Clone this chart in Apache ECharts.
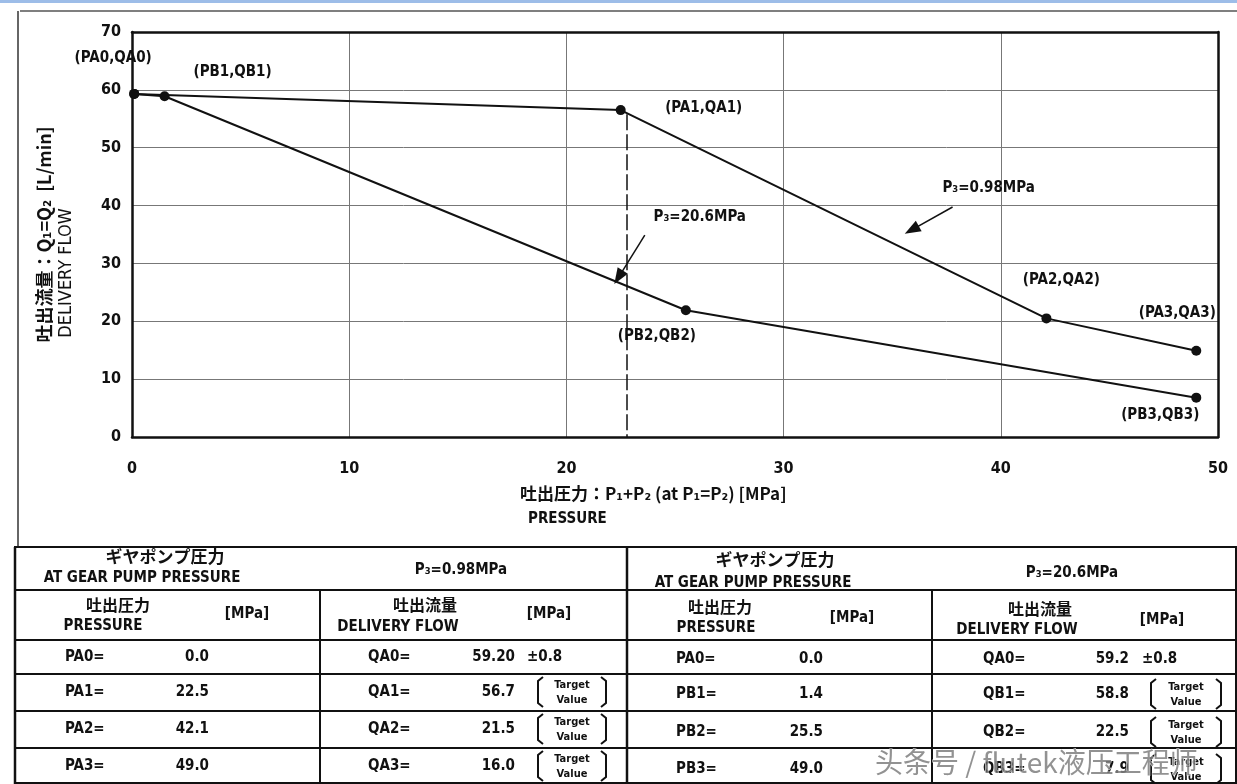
<!DOCTYPE html>
<html><head><meta charset="utf-8">
<script src="https://cdn.jsdelivr.net/npm/echarts@6/dist/echarts.min.js"></script>
<style>html,body{margin:0;padding:0;background:#fff}#c{width:1237px;height:784px}</style>
</head><body><div id="c"></div>
<script>
// ---- data ----
const seriesA_x = [0.1, 22.5, 42.1, 49.0];
const seriesA_y = [59.3, 56.5, 20.5, 14.9];
const seriesB_x = [0.1, 1.5, 25.5, 49.0];
const seriesB_y = [59.3, 58.9, 21.9, 6.8];
const labelsA = ['(PA0,QA0)', '(PA1,QA1)', '(PA2,QA2)', '(PA3,QA3)'];
const labelsB = ['', '(PB1,QB1)', '(PB2,QB2)', '(PB3,QB3)'];
const xTickLabels = ['0', '10', '20', '30', '40', '50'];
const yTickLabels = ['0', '10', '20', '30', '40', '50', '60', '70'];
// table texts
const leftPLabels = ['PA0=', 'PA1=', 'PA2=', 'PA3='];
const leftPValues = ['0.0', '22.5', '42.1', '49.0'];
const leftQLabels = ['QA0=', 'QA1=', 'QA2=', 'QA3='];
const leftQValues = ['59.20', '56.7', '21.5', '16.0'];
const rightPLabels = ['PA0=', 'PB1=', 'PB2=', 'PB3='];
const rightPValues = ['0.0', '1.4', '25.5', '49.0'];
const rightQLabels = ['QA0=', 'QB1=', 'QB2=', 'QB3='];
const rightQValues = ['59.2', '58.8', '22.5', '7.9'];

const LAT = '"Liberation Sans Narrow","DejaVu Sans Condensed","Noto Sans CJK JP",sans-serif';
const CJK = '"Noto Sans CJK JP","DejaVu Sans Condensed",sans-serif';

const offA = [[-21, -36], [83, -2], [15, -38], [-19, -38]];
const offB = [[0, 0], [68, -24], [-29, 26], [-36, 17]];

function mkData(xs, ys, labels, offs) {
  return xs.map((x, i) => ({
    value: [x, ys[i]],
    label: labels[i] ? {show: true, formatter: labels[i], position: 'inside', offset: offs[i],
      color: '#111', fontFamily: LAT, fontWeight: 'bold', fontSize: 15} : {show: false}
  }));
}

const g = [];
function T(x, y, text, o) {
  o = o || {};
  g.push({type: 'text', x: x, y: y, rotation: o.rot || 0, silent: true,
    style: {text: text, fill: o.color || '#111', textAlign: o.align || 'center', textVerticalAlign: 'middle',
      font: (o.weight || 'bold') + ' ' + (o.size || 15) + 'px ' + (o.family || LAT),
      lineHeight: o.lh, stroke: o.stroke, lineWidth: o.sw}});
}
function L(x1, y1, x2, y2, w, c) {
  g.push({type: 'line', silent: true, shape: {x1: x1, y1: y1, x2: x2, y2: y2}, style: {stroke: c || '#111', lineWidth: w || 2}});
}
function bracket(xl, xr, yc) {
  g.push({type: 'polyline', silent: true, shape: {points: [[xl + 5, yc - 15], [xl, yc - 11], [xl, yc + 11], [xl + 5, yc + 15]]}, style: {stroke: '#111', lineWidth: 2, fill: null}});
  g.push({type: 'polyline', silent: true, shape: {points: [[xr - 5, yc - 15], [xr, yc - 11], [xr, yc + 11], [xr - 5, yc + 15]]}, style: {stroke: '#111', lineWidth: 2, fill: null}});
  T((xl + xr) / 2, yc - 7, 'Target', {size: 11});
  T((xl + xr) / 2, yc + 8, 'Value', {size: 11});
}

// page decorations
g.push({type: 'rect', silent: true, shape: {x: 0, y: 0, width: 1237, height: 3}, style: {fill: '#9dbde8'}});
L(20, 11, 1237, 11, 1.3, '#555');
L(18, 11, 18, 547, 1.5, '#333');

// axis names
T(66, 273, 'DELIVERY FLOW', {rot: Math.PI / 2, weight: 'normal', size: 18});
T(520, 494, '吐出圧力：P₁+P₂ (at P₁=P₂) [MPa]', {align: 'left', size: 17, family: CJK});
T(528, 519, 'PRESSURE', {align: 'left', size: 15});

// ---- table ----
const yTop = 547, yR1 = 590, yR2 = 640, rowL = [674, 711, 748], yBot = 783;
L(14, yTop, 1237, yTop, 2); L(14, yR1, 1237, yR1, 2); L(14, yR2, 1237, yR2, 2);
rowL.forEach(y => L(14, y, 1237, y, 2));
L(14, yBot, 1237, yBot, 2);
L(15, yTop, 15, 784, 2.5); L(1236, yTop, 1236, 784, 2);
L(627, yTop, 627, 784, 2.5); L(320, yR1, 320, 784, 2); L(932, yR1, 932, 784, 2);

T(165, 557, 'ギヤポンプ圧力', {family: CJK, size: 17});
T(142, 578, 'AT GEAR PUMP PRESSURE', {size: 15});
T(461, 570, 'P₃=0.98MPa', {size: 15});
T(775, 560, 'ギヤポンプ圧力', {family: CJK, size: 17});
T(753, 583, 'AT GEAR PUMP PRESSURE', {size: 15});
T(1072, 573, 'P₃=20.6MPa', {size: 15});

T(118, 605, '吐出圧力', {family: CJK, size: 16});
T(103, 626, 'PRESSURE', {size: 15});
T(247, 614, '[MPa]', {size: 15});
T(425, 605, '吐出流量', {family: CJK, size: 16});
T(398, 627, 'DELIVERY FLOW', {size: 15});
T(549, 614, '[MPa]', {size: 15});
T(720, 607, '吐出圧力', {family: CJK, size: 16});
T(716, 628, 'PRESSURE', {size: 15});
T(852, 618, '[MPa]', {size: 15});
T(1040, 609, '吐出流量', {family: CJK, size: 16});
T(1017, 630, 'DELIVERY FLOW', {size: 15});
T(1162, 620, '[MPa]', {size: 15});

const yL = [657, 692, 729, 766], yRr = [659, 694, 732, 769];
for (let i = 0; i < 4; i++) {
  T(65, yL[i], leftPLabels[i], {align: 'left'});
  T(209, yL[i], leftPValues[i], {align: 'right'});
  T(368, yL[i], leftQLabels[i], {align: 'left'});
  T(515, yL[i], leftQValues[i], {align: 'right'});
  T(676, yRr[i], rightPLabels[i], {align: 'left'});
  T(823, yRr[i], rightPValues[i], {align: 'right'});
  T(983, yRr[i], rightQLabels[i], {align: 'left'});
  T(1129, yRr[i], rightQValues[i], {align: 'right'});
  if (i === 0) {
    T(527, yL[i], '±0.8', {align: 'left'});
    T(1142, yRr[i], '±0.8', {align: 'left'});
  } else {
    bracket(538, 606, yL[i]);
    bracket(1151, 1221, yRr[i]);
  }
}
// watermark
T(875, 762, '头条号 / flutek液压工程师', {align: 'left', size: 28, weight: 'normal', family: '"Noto Sans CJK SC",sans-serif', color: 'rgba(110,110,110,0.75)', stroke: 'rgba(255,255,255,0.8)', sw: 1});

const chart = echarts.init(document.getElementById('c'), null, {renderer: 'canvas'});
const axisFont = {fontFamily: LAT, fontWeight: 'bold', fontSize: 16, color: '#111'};
chart.setOption({
  animation: false,
  backgroundColor: '#fff',
  grid: {left: 132, right: 19, top: 32, bottom: 347, containLabel: false},
  xAxis: [
    {type: 'value', min: 0, max: 50, interval: 10,
      axisLine: {show: true, onZero: false, lineStyle: {color: '#111', width: 2.5}},
      axisTick: {show: false},
      axisLabel: Object.assign({margin: 24, formatter: (v) => xTickLabels[v / 10]}, axisFont),
      splitLine: {show: true, lineStyle: {color: '#777', width: 1}}},
    {type: 'value', min: 0, max: 50, interval: 10, position: 'top',
      axisLine: {show: true, onZero: false, lineStyle: {color: '#111', width: 2.5}},
      axisTick: {show: false}, axisLabel: {show: false}, splitLine: {show: false}}
  ],
  yAxis: [
    {type: 'value', min: 0, max: 70, interval: 10,
      axisLine: {show: true, onZero: false, lineStyle: {color: '#111', width: 2.5}},
      axisTick: {show: false},
      axisLabel: Object.assign({margin: 11, formatter: (v) => yTickLabels[v / 10]}, axisFont),
      splitLine: {show: true, lineStyle: {color: '#777', width: 1}},
      name: '吐出流量：Q₁=Q₂  [L/min]', nameLocation: 'middle', nameRotate: 90, nameGap: 79,
      nameTextStyle: {fontFamily: CJK, fontWeight: 'bold', fontSize: 18, color: '#111'}},
    {type: 'value', min: 0, max: 70, interval: 10, position: 'right',
      axisLine: {show: true, onZero: false, lineStyle: {color: '#111', width: 2.5}},
      axisTick: {show: false}, axisLabel: {show: false}, splitLine: {show: false}}
  ],
  series: [
    {type: 'line', name: 'P3=0.98MPa', data: mkData(seriesA_x, seriesA_y, labelsA, offA),
      symbol: 'circle', symbolSize: 10, clip: false,
      lineStyle: {color: '#111', width: 2}, itemStyle: {color: '#111'},
      markLine: {silent: true, symbol: ['none', 'none'], label: {show: false},
        lineStyle: {color: '#111', width: 1.5, type: [16, 4]},
        data: [[{coord: [22.8, 55.8]}, {coord: [22.8, 0]}]]},
      markPoint: {silent: true, symbol: 'circle', symbolSize: 0,
        label: {show: true, position: 'inside', color: '#111', fontFamily: LAT, fontWeight: 'bold', fontSize: 15},
        data: [{coord: [39.44, 43.0], label: {formatter: 'P₃=0.98MPa'}}]}
    },
    {type: 'line', name: 'P3=20.6MPa', data: mkData(seriesB_x, seriesB_y, labelsB, offB),
      symbol: 'circle', symbolSize: 10, clip: false,
      lineStyle: {color: '#111', width: 2}, itemStyle: {color: '#111'},
      markLine: {silent: true, symbol: ['none', 'triangle'], symbolSize: [12, 16], label: {show: false},
        lineStyle: {color: '#111', width: 1.5, type: 'solid'},
        data: [
          [{coord: [23.61, 34.9]}, {coord: [22.4, 27.6]}],
          [{coord: [37.78, 39.75]}, {coord: [35.9, 35.8]}]
        ]},
      markPoint: {silent: true, symbol: 'circle', symbolSize: 0,
        label: {show: true, position: 'inside', color: '#111', fontFamily: LAT, fontWeight: 'bold', fontSize: 15},
        data: [{coord: [26.14, 38.0], label: {formatter: 'P₃=20.6MPa'}}]}
    }
  ],
  graphic: g
});
</script></body></html>
